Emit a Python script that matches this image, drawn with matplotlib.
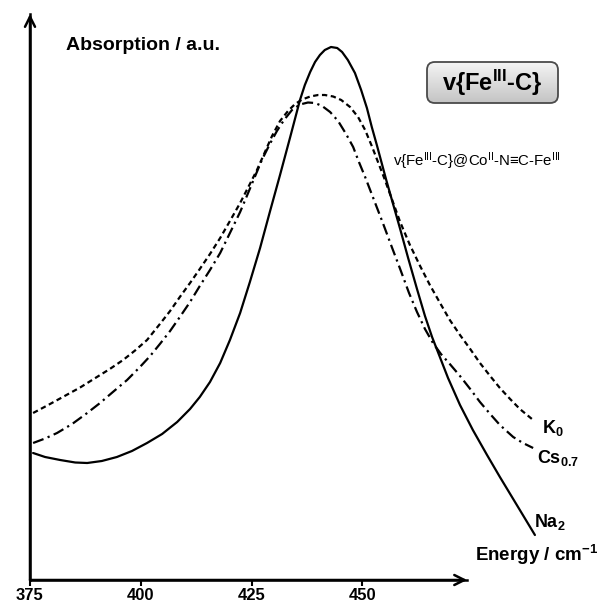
import matplotlib
matplotlib.use("Agg")
import matplotlib.pyplot as plt
from matplotlib.patches import FancyBboxPatch
import numpy as np

plt.rcParams['font.family'] = ['Liberation Sans', 'DejaVu Sans']
plt.rcParams['mathtext.fontset'] = 'custom'
plt.rcParams['mathtext.rm'] = 'Liberation Sans'
plt.rcParams['mathtext.bf'] = 'Liberation Sans:bold'
plt.rcParams['mathtext.it'] = 'Liberation Sans:italic'

# ---------------- data ----------------
energy_na = [375.7, 378.4, 381.8, 385.2, 387.9, 391.2, 394.6, 398.0, 401.4, 404.8,
             408.2, 411.1, 413.3, 415.6, 417.9, 420.1, 422.4, 424.6, 426.9, 429.1,
             431.4, 433.7, 435.9, 437.0, 438.2, 439.3, 440.4, 441.5, 442.9, 444.3,
             445.4, 446.7, 448.3, 449.7, 451.0, 452.1, 453.3, 455.3, 456.9, 458.5,
             460.3, 462.3, 464.1, 465.7, 469.3, 472.0, 474.9, 478.1, 481.0, 485.5, 488.9]
abs_na = [1.27, 1.23, 1.20, 1.175, 1.17, 1.19, 1.23, 1.29, 1.37, 1.46,
          1.58, 1.71, 1.83, 1.98, 2.17, 2.40, 2.67, 2.98, 3.32, 3.68,
          4.05, 4.43, 4.80, 4.95, 5.08, 5.18, 5.25, 5.30, 5.33, 5.32,
          5.28, 5.20, 5.07, 4.90, 4.72, 4.53, 4.34, 4.01, 3.76, 3.51,
          3.22, 2.91, 2.64, 2.43, 2.02, 1.75, 1.50, 1.25, 1.03, 0.70, 0.45]

energy_k = [375.7, 379.1, 382.4, 386.3, 390.1, 393.0, 396.0, 398.7, 401.4, 404.3,
            406.6, 408.8, 411.1, 413.3, 415.6, 417.9, 420.1, 422.4, 424.6, 426.2,
            428.0, 429.6, 431.4, 433.2, 434.8, 436.4, 438.2, 440.0, 441.5, 443.4,
            445.2, 447.2, 449.0, 450.6, 452.1, 453.5, 454.9, 456.7, 458.5, 460.7,
            463.0, 465.2, 467.5, 469.7, 472.0, 474.3, 476.5, 478.8, 481.0, 483.3,
            485.5, 488.5]
abs_k = [1.67, 1.75, 1.83, 1.925, 2.03, 2.11, 2.20, 2.295, 2.40, 2.56,
         2.69, 2.83, 2.97, 3.11, 3.26, 3.42, 3.59, 3.77, 3.96, 4.10,
         4.28, 4.44, 4.59, 4.69, 4.76, 4.805, 4.835, 4.85, 4.85, 4.835,
         4.80, 4.73, 4.63, 4.50, 4.34, 4.18, 4.02, 3.80, 3.58, 3.35,
         3.14, 2.95, 2.77, 2.60, 2.45, 2.31, 2.17, 2.04, 1.92, 1.81,
         1.71, 1.60]

energy_cs = [375.7, 378.4, 381.1, 384.5, 387.9, 390.8, 393.7, 396.9, 399.8, 402.1,
             404.3, 406.6, 408.8, 411.1, 413.3, 415.6, 417.9, 420.1, 422.4, 424.2,
             425.8, 427.3, 429.1, 430.7, 432.3, 434.1, 435.9, 437.7, 439.3, 440.9,
             442.7, 444.5, 446.3, 447.9, 449.2, 450.6, 452.6, 454.6, 456.7, 458.5,
             460.5, 462.3, 464.1, 465.9, 467.7, 469.7, 472.0, 474.3, 476.5, 478.8,
             481.0, 484.0, 486.2, 488.5]
abs_cs = [1.37, 1.415, 1.47, 1.56, 1.67, 1.77, 1.88, 2.00, 2.13, 2.24,
          2.36, 2.49, 2.63, 2.78, 2.94, 3.10, 3.27, 3.47, 3.68, 3.87,
          4.04, 4.20, 4.36, 4.49, 4.60, 4.70, 4.755, 4.775, 4.77, 4.74,
          4.68, 4.59, 4.46, 4.33, 4.18, 4.03, 3.80, 3.57, 3.32, 3.11,
          2.87, 2.68, 2.51, 2.37, 2.26, 2.16, 2.04, 1.91, 1.78, 1.66,
          1.55, 1.43, 1.37, 1.32]

tick_values = [375, 400, 425, 450]
tick_labels = ['375', '400', '425', '450']

x_axis_end = 473.6
y_axis_end = 5.66

# ---------------- figure ----------------
fig = plt.figure(figsize=(5.97, 6.08), dpi=100)
ax = fig.add_axes([0, 0, 1, 1])
ax.set_facecolor('white')

ax.plot(energy_na, abs_na, color='black', lw=1.6, solid_capstyle='round',
        solid_joinstyle='round')
ax.plot(energy_k, abs_k, color='black', lw=1.6, linestyle=(0, (2.4, 1.6)))
ax.plot(energy_cs, abs_cs, color='black', lw=1.6, linestyle=(0, (5.0, 2.0, 1.0, 2.0)))

# axes spines / ticks
for s in ['top', 'right']:
    ax.spines[s].set_visible(False)
ax.spines['bottom'].set_position(('data', 0))
ax.spines['left'].set_position(('data', 375))
ax.spines['bottom'].set_bounds(375, x_axis_end)
ax.spines['left'].set_bounds(0, y_axis_end)
ax.spines['bottom'].set_linewidth(1.8)
ax.spines['left'].set_linewidth(1.8)
ax.set_yticks([])
ax.set_xticks(tick_values)
ax.set_xticklabels(tick_labels, fontweight='bold', fontsize=12)
ax.tick_params(axis='x', direction='out', length=4, width=1.5, pad=2)

# arrows
ax.annotate('', xy=(x_axis_end, 0), xytext=(375, 0),
            arrowprops=dict(arrowstyle='->', lw=1.8, color='black',
                            mutation_scale=18, shrinkA=0, shrinkB=0))
ax.annotate('', xy=(375, y_axis_end), xytext=(375, 0),
            arrowprops=dict(arrowstyle='->', lw=1.8, color='black',
                            mutation_scale=18, shrinkA=0, shrinkB=0))

# texts
ax.text(383.1, 5.30, 'Absorption / a.u.', fontsize=14, fontweight='bold',
        ha='left', va='baseline')
ax.text(475.4, 0.19, r'Energy / cm$^{\mathbf{-1}}$', fontsize=13.5, fontweight='bold',
        ha='left', va='baseline')
ax.text(490.5, 1.47, r'K$_{\mathbf{0}}$', fontsize=13, fontweight='bold',
        ha='left', va='baseline')
ax.text(489.4, 1.17, r'Cs$_{\mathbf{0.7}}$', fontsize=13, fontweight='bold',
        ha='left', va='baseline')
ax.text(488.7, 0.53, r'Na$_{\mathbf{2}}$', fontsize=13, fontweight='bold',
        ha='left', va='baseline')
ax.text(456.9, 4.19, r'v{Fe$^{\mathrm{III}}$-C}@Co$^{\mathrm{II}}$-N≡C-Fe$^{\mathrm{III}}$',
        fontsize=10.8, ha='left', va='center')

# rounded gradient box
bx0, by0, bw, bh = 427 / 597, (608 - 103) / 608, 131 / 597, 41 / 608
box = FancyBboxPatch((bx0, by0), bw, bh, boxstyle='round,pad=0,rounding_size=0.013',
                     transform=ax.transAxes, facecolor='none', edgecolor='#4a4a4a',
                     lw=1.3, zorder=5)
ax.add_patch(box)
grad = np.linspace(0, 1, 64).reshape(-1, 1)
img = ax.imshow(grad, cmap=matplotlib.colors.LinearSegmentedColormap.from_list(
    'g', ['#c4c4c4', '#f4f4f4']), extent=(bx0, bx0 + bw, by0, by0 + bh),
    transform=ax.transAxes, aspect='auto', origin='lower', zorder=4)
img.set_clip_path(box)
ax.text(bx0 + bw / 2, by0 + bh / 2, r'v{Fe$^{\mathbf{III}}$-C}', transform=ax.transAxes,
        fontsize=17, fontweight='bold', ha='center', va='center', zorder=6)

# limits: full-figure axes
ax.set_xlim(375 - 30 / 4.433, 375 + 567 / 4.433)
ax.set_ylim(-0.28, 5.80)

fig.savefig('out.png', dpi=100, facecolor='white')
